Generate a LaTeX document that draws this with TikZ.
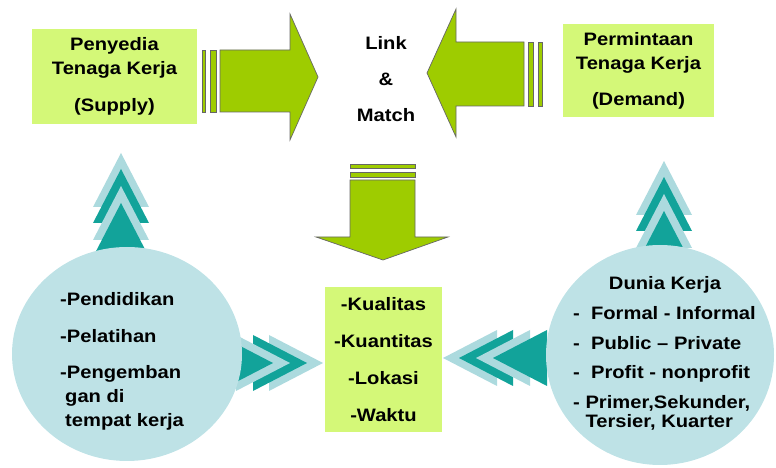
\documentclass[tikz,border=0pt]{standalone}
\usepackage{fontspec}
\setmainfont{Liberation Sans}[FakeStretch=1.12]
\usepackage{tikz}
\usetikzlibrary{arrows.meta,positioning,calc,shapes.geometric}
\definecolor{boxgreen}{RGB}{212,248,120}
\definecolor{arrowgreen}{RGB}{158,204,0}
\definecolor{circlecyan}{RGB}{190,226,230}
\definecolor{chevlight}{RGB}{172,218,222}
\definecolor{chevdark}{RGB}{18,163,154}
\tikzset{
  labelbox/.style={fill=boxgreen, inner sep=0pt, align=center, font=\bfseries\fontsize{18}{24}\selectfont},
  blockarr/.style={fill=arrowgreen, draw=black!60, line width=0.7pt, line join=miter},
  areacircle/.style={ellipse, fill=circlecyan, inner sep=0pt},
  listtext/.style={align=left, inner sep=0pt, font=\bfseries\fontsize{18}{24}\selectfont},
}
% stacked chevrons: #1 tip, #2 direction
\newcommand{\chevstack}[2]{%
  \begin{scope}[shift={#1}, rotate=#2]
    \foreach \off/\col in {0/chevlight, 16/chevdark, 33/chevlight, 50/chevdark}
      \fill[\col] (-\off,0) -- (-\off-54,28) -- (-\off-54,-28) -- cycle;
  \end{scope}}

\begin{document}
\begin{tikzpicture}[x=1pt, y=1pt]
  \useasboundingbox (0,0) rectangle (776,468);
  % boxes on top
  \node[labelbox, minimum width=165, minimum height=95] (supply) at (114.5,391.5)
    {Penyedia\\Tenaga Kerja\\[13pt](Supply)};
  \node[labelbox, minimum width=151, minimum height=93] (demand) at (638.5,397.5)
    {Permintaan\\Tenaga Kerja\\[12pt](Demand)};
  \node[listtext, align=center, font=\bfseries\fontsize{18}{36}\selectfont] (linkmatch) at (386,389)
    {Link\\\&\\Match};
  % supply arrow
  \draw[blockarr] (202,418) rectangle (205,356);
  \draw[blockarr] (210,418) rectangle (216,356);
  \draw[blockarr] (220,418) -- (290,418) -- (290,454) -- (318,391) -- (290,328)
    -- (290,356) -- (220,356) -- cycle;
  % demand arrow
  \draw[blockarr] (528,426) rectangle (533,362);
  \draw[blockarr] (538,426) rectangle (542,362);
  \draw[blockarr] (524,426) -- (456,426) -- (456,459) -- (427,395) -- (456,331)
    -- (456,362) -- (524,362) -- cycle;
  % down arrow
  \draw[blockarr] (350,304) rectangle (415,300);
  \draw[blockarr] (350,296) rectangle (415,291);
  \draw[blockarr] (350,288) -- (415,288) -- (415,231) -- (448,231) -- (383,208)
    -- (316,231) -- (350,231) -- cycle;
  % chevrons
  \chevstack{(121,315)}{90}
  \chevstack{(664,307)}{90}
  \chevstack{(323,105)}{0}
  \chevstack{(443,110)}{180}
  % circles
  \node[areacircle, minimum width=230, minimum height=214] (edu) at (127,114) {};
  \node[areacircle, minimum width=228, minimum height=220] (work) at (660,113) {};
  \node[listtext, anchor=west] (edulist) at (60,107)
    {-Pendidikan\\[13pt]-Pelatihan\\[12pt]-Pengemban\\\hspace*{5pt}gan di\\\hspace*{5pt}tempat kerja};
  \node[listtext] (worktitle) at (665,183) {Dunia Kerja};
  \node[listtext, anchor=west, font=\bfseries\fontsize{18}{29.5}\selectfont] (worklist) at (573,99.5)
    {-~ Formal - Informal\\-~ Public – Private\\-~ Profit - nonprofit\\- Primer,Sekunder,\\[-10pt]\phantom{- }Tersier, Kuarter};
  % middle box
  \node[labelbox, minimum width=117, minimum height=145, font=\bfseries\fontsize{18}{37}\selectfont] (aspects) at (383.5,108.5)
    {-Kualitas\\-Kuantitas\\-Lokasi\\-Waktu};
\end{tikzpicture}
\end{document}
